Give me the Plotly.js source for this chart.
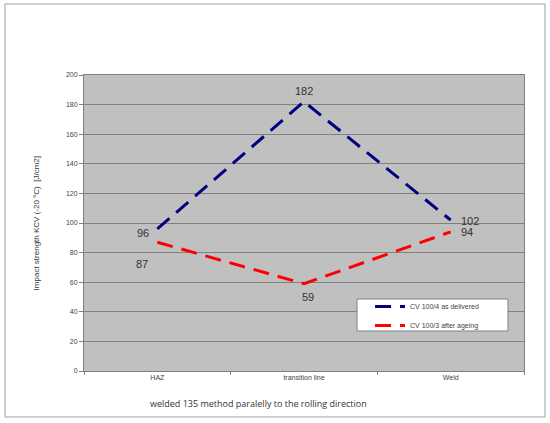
<!DOCTYPE html>
<html>
<head>
<meta charset="utf-8">
<script src="https://cdn.plot.ly/plotly-3.0.1.min.js"></script>
<style>
  body { margin: 0; background: #fff; }
  #chart { width: 550px; height: 423px; }
</style>
</head>
<body>
<div id="chart"></div>
<script>
// positions along the weld
var locations = ["HAZ", "transition line", "Weld"];

// impact strength KCV at -20 C [J/cm2]
var asDelivered = [96, 182, 102];
var afterAgeing = [87, 59, 94];

var seriesNames = ["CV 100/4 as delivered", "CV 100/3 after ageing"];

// label offsets (px) next to each point, like the original sheet
var blueShift = [[-14, -4], [0, 11], [19, -1]];
var redShift = [[-15, -22], [4, -13], [16, 0]];

var blue = {
  x: locations,
  y: asDelivered,
  name: seriesNames[0],
  type: "scatter",
  mode: "lines",
  line: { color: "#000080", width: 3, dash: "16px,9px" }
};

var red = {
  x: locations,
  y: afterAgeing,
  name: seriesNames[1],
  type: "scatter",
  mode: "lines",
  line: { color: "#ff0000", width: 3, dash: "16px,9px" }
};

var annotations = [
  {
    text: "Impact strength KCV (-20 °C)  [J/cm2]",
    xref: "paper", yref: "paper",
    x: -0.123, y: 0.5,
    textangle: -90,
    showarrow: false,
    font: { size: 8, color: "#333" }
  },
  {
    text: "welded 135 method paralelly to the rolling direction",
    xref: "paper", yref: "paper",
    x: 0.145, y: -0.111,
    xanchor: "left", yanchor: "middle",
    showarrow: false,
    font: { family: "Open Sans, Liberation Sans", size: 9, color: "#333" }
  }
];

function addLabels(vals, shifts) {
  for (var i = 0; i < vals.length; i++) {
    annotations.push({
      x: i, y: vals[i],
      xref: "x", yref: "y",
      text: String(vals[i]),
      showarrow: false,
      xshift: shifts[i][0],
      yshift: shifts[i][1],
      font: { family: "Liberation Sans, Arial", size: 11, color: "#333" }
    });
  }
}
addLabels(asDelivered, blueShift);
addLabels(afterAgeing, redShift);

var layout = {
  width: 550,
  height: 423,
  margin: { l: 84, r: 26, t: 75, b: 52 },
  paper_bgcolor: "#ffffff",
  plot_bgcolor: "#c0c0c0",
  font: { family: "Liberation Sans, Arial", size: 7, color: "#444" },
  showlegend: true,
  legend: {
    x: 0.65, y: 0.267, xanchor: "left", yanchor: "top",
    bgcolor: "rgba(0,0,0,0)",
    borderwidth: 0,
    font: { size: 7, color: "#444" },
    tracegroupgap: 0
  },
  xaxis: {
    type: "category",
    range: [-0.5, 2.5],
    showgrid: false,
    showline: true,
    linecolor: "#808080",
    linewidth: 1,
    mirror: true,
    ticks: "outside",
    tickson: "boundaries",
    ticklen: 3,
    tickcolor: "#808080",
    tickfont: { size: 7, color: "#444" },
    fixedrange: true
  },
  yaxis: {
    range: [0, 200],
    dtick: 20,
    showgrid: true,
    gridcolor: "#808080",
    gridwidth: 1,
    showline: true,
    linecolor: "#808080",
    mirror: true,
    ticks: "outside",
    ticklen: 4,
    tickcolor: "#808080",
    tickfont: { size: 7, color: "#444" },
    zeroline: false,
    fixedrange: true
  },
  annotations: annotations,
  shapes: [
    {
      type: "rect",
      xref: "paper", yref: "paper",
      x0: -0.1795, x1: 1.0477, y0: -0.1554, y1: 1.2399,
      line: { color: "#a0a0a0", width: 1 },
      layer: "below"
    },
    {
      // legend box
      type: "rect",
      xref: "paper", yref: "paper",
      x0: 0.6205, x1: 0.9636, y0: 0.1351, y1: 0.2432,
      fillcolor: "#ffffff",
      line: { color: "#808080", width: 1 },
      layer: "above"
    }
  ]
};

Plotly.newPlot("chart", [blue, red], layout, { displayModeBar: false, staticPlot: true });
</script>
</body>
</html>
